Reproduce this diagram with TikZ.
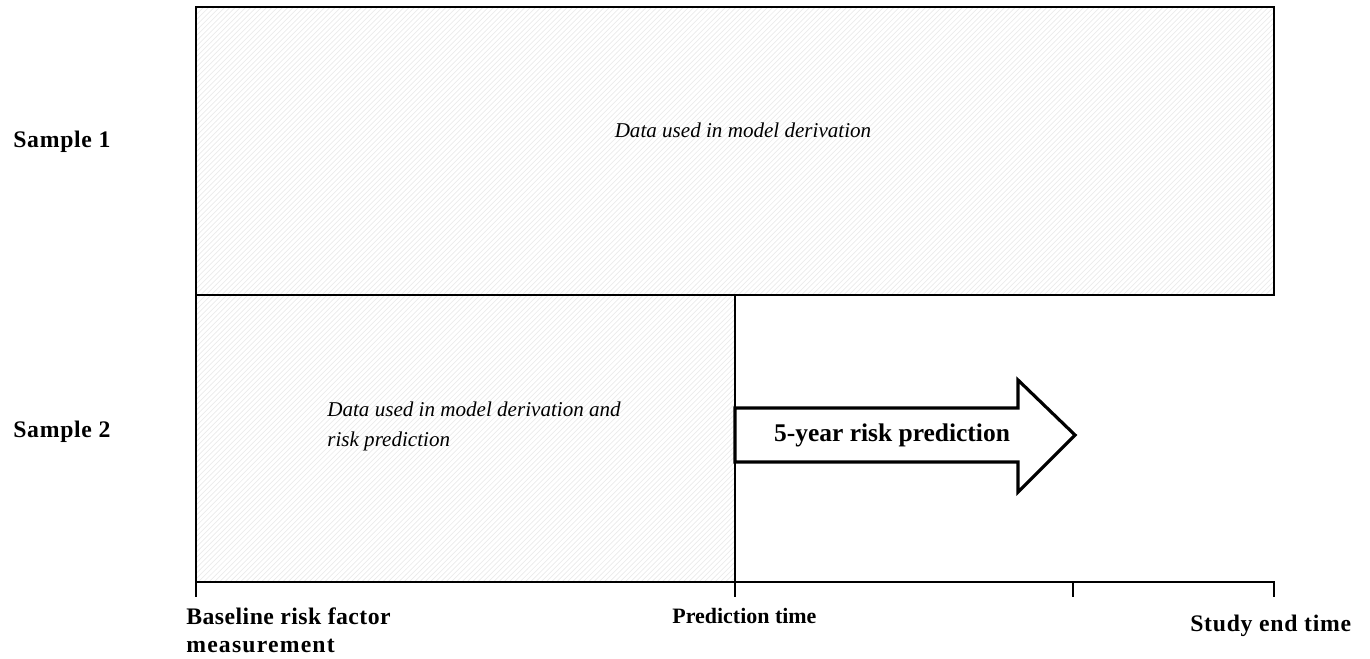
\documentclass[tikz,border=0pt]{standalone}
\usepackage{fontspec}
\setmainfont{Liberation Serif}
\usetikzlibrary{patterns}
\begin{document}
\begin{tikzpicture}[x=0.02cm, y=-0.02cm, line join=miter,
  hatch/.style={pattern=north east lines, pattern color=black!8},
  lab/.style={font=\bfseries\fontsize{13.5}{16}\selectfont, align=left, inner sep=0pt},
  note/.style={font=\itshape\fontsize{12}{17}\selectfont, align=left, inner sep=0pt}]
 \useasboundingbox (0,0) rectangle (1370,659);
 \coordinate (base) at (196,582); \coordinate (pred) at (735,582);
 \coordinate (five) at (1073,582); \coordinate (stop) at (1274,582);
 % data boxes
 \fill[hatch] (196,7) rectangle (1274,295);
 \fill[hatch] (196,295) rectangle (pred);
 \draw[line width=1.1pt] (base)--(196,7)--(1274,7)--(1274,295)--(196,295);
 % 5-year arrow
 \draw[line width=1.8pt, fill=white] (735,408)--(1018,408)--(1018,380)--(1075,435)--(1018,492)--(1018,462)--(735,462)--cycle;
 \node[lab, font=\bfseries\fontsize{14.5}{16}\selectfont] (risk) at (892,435) {5-year risk prediction};
 % time axis
 \draw[line width=1.1pt] (735,295)--(pred)--++(0,15) (base)--++(0,15) (base)--(stop)--++(0,15) (five)--++(0,15);
 \node[lab, anchor=west] (s1) at (13,142) {\addfontfeature{LetterSpace=3}Sample 1};
 \node[lab, anchor=west] (s2) at (13,432) {\addfontfeature{LetterSpace=3}Sample 2};
 \node[note] (d1) at (743,130) {Data used in model derivation};
 \node[note, anchor=north west] (d2) at (327,402) {Data used in model derivation and\\risk prediction};
 \node[lab, anchor=north west] (t0) at (186,607) {\addfontfeature{LetterSpace=2}Baseline risk factor\\\addfontfeature{LetterSpace=5}measurement};
 \node[lab, anchor=north west, font=\bfseries\fontsize{12.5}{16}\selectfont] (t1) at (672,608) {Prediction time};
 \node[lab, anchor=north west] (t2) at (1190,615) {\addfontfeature{LetterSpace=3}Study end time};
\end{tikzpicture}
\end{document}
